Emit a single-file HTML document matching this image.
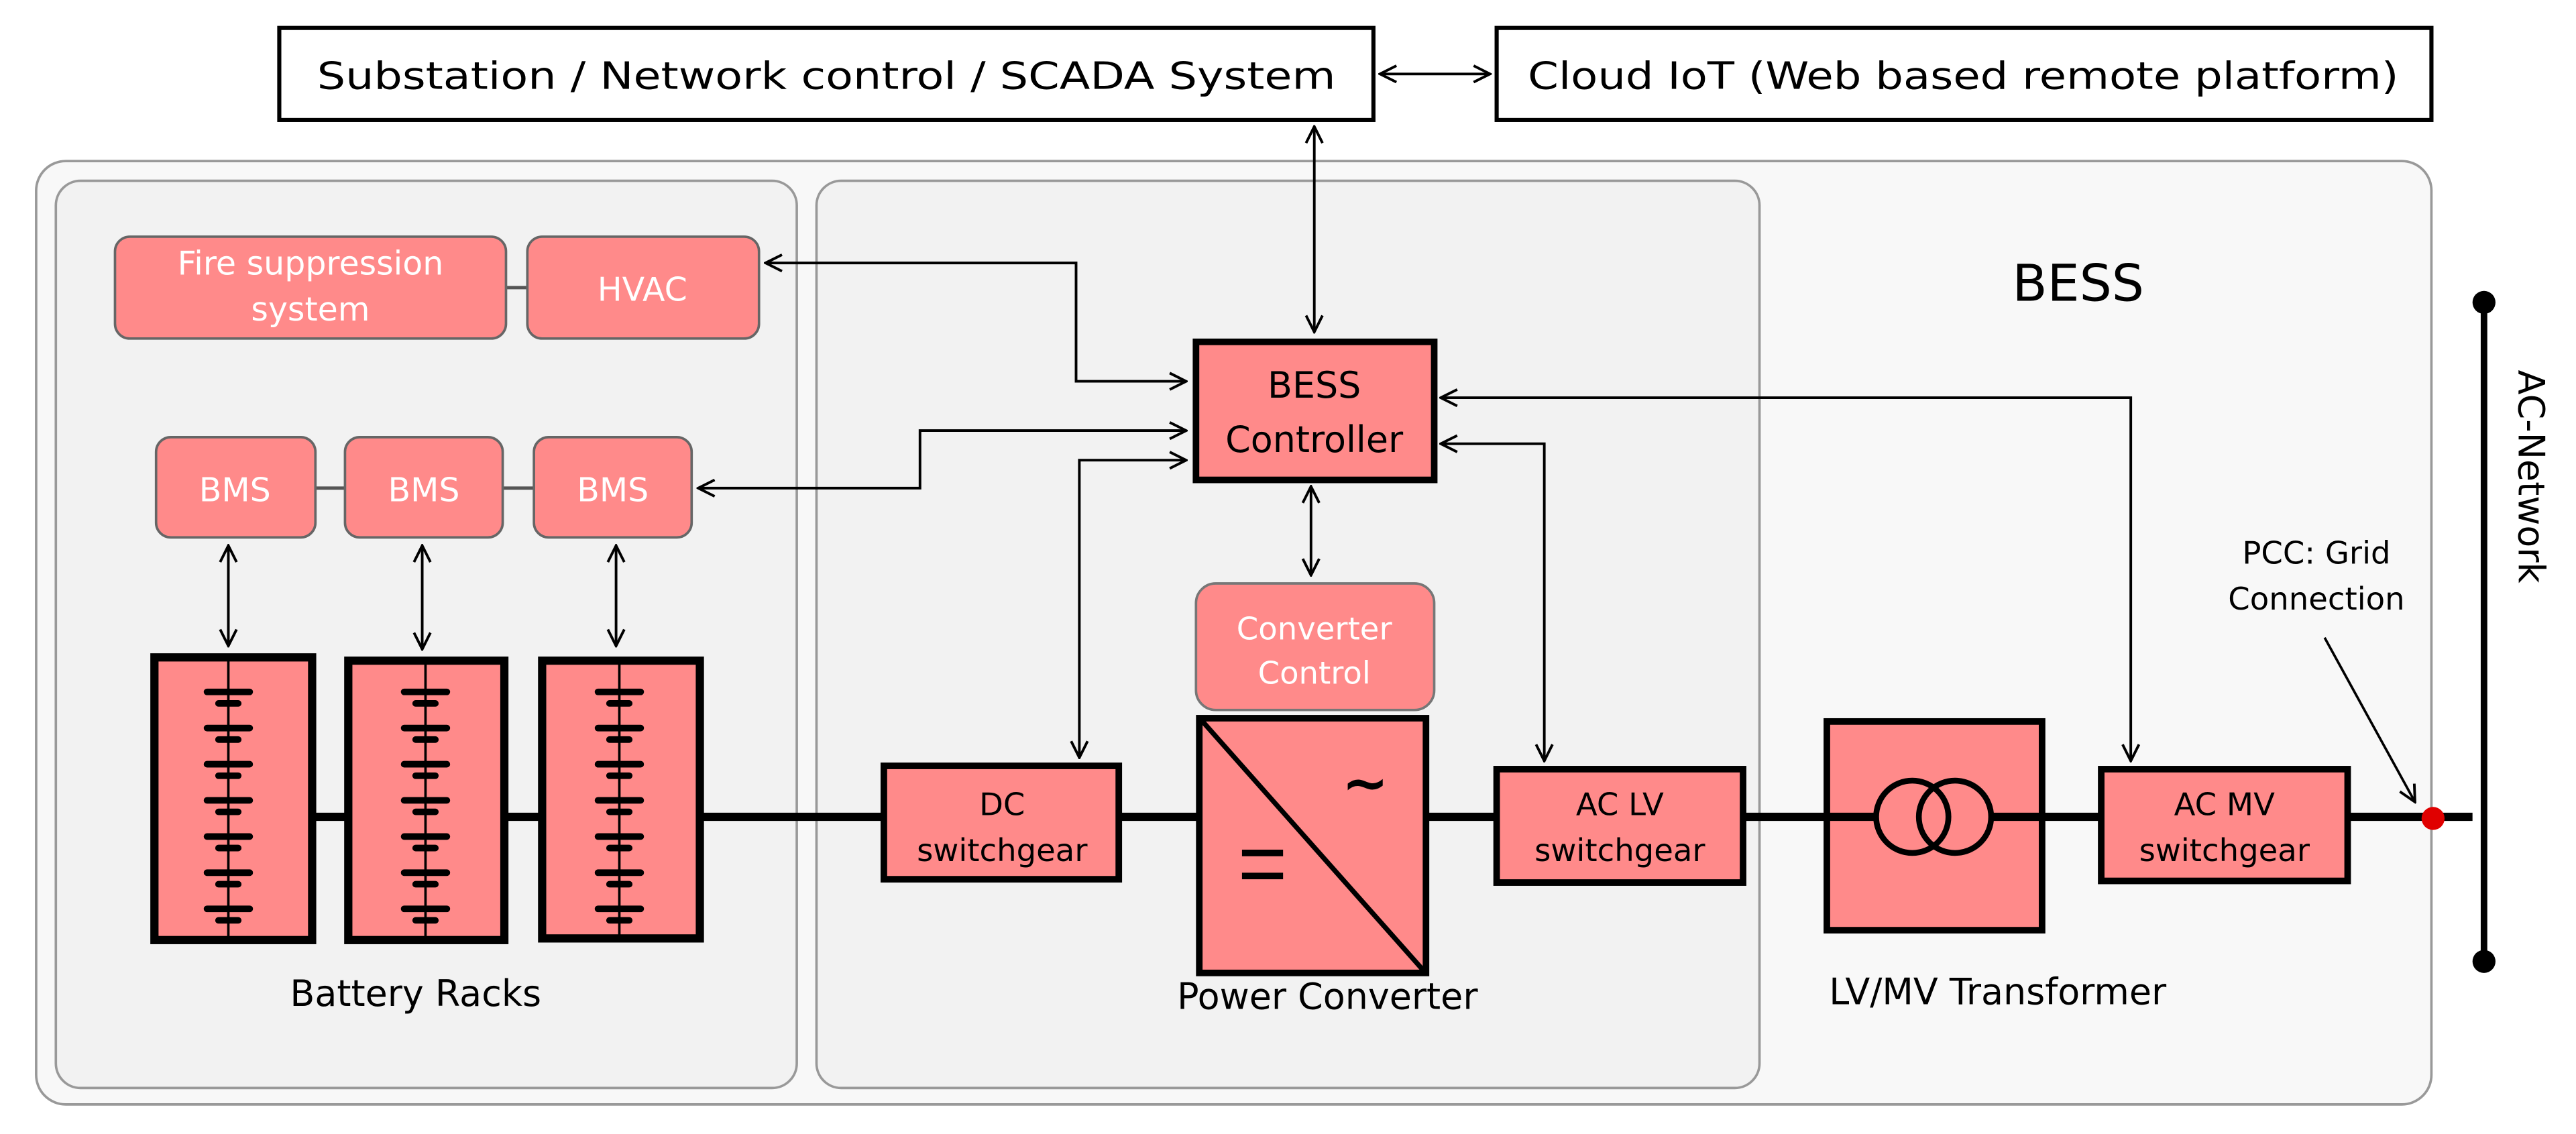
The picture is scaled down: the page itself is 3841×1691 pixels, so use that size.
<!DOCTYPE html>
<html><head><meta charset="utf-8"><style>
html,body{margin:0;padding:0;background:#fff}
svg{display:block}
text{font-family:"DejaVu Sans","Liberation Sans",sans-serif}
</style></head><body>
<svg width="3841" height="1691" viewBox="0 0 1568 690" preserveAspectRatio="none" xmlns="http://www.w3.org/2000/svg">
<defs>
<marker id="a" viewBox="0 0 12 12" refX="11" refY="6" markerWidth="12" markerHeight="12" markerUnits="userSpaceOnUse" orient="auto-start-reverse">
<path d="M1,1 L11,6 L1,11" fill="none" stroke="#000" stroke-width="1.6"/>
</marker>
<g id="cells" stroke="#000" stroke-linecap="round">
<g stroke-width="4">
<path d="M-13,421h26M-6,428h12M-13,443h26M-6,450h12M-13,465h26M-6,472h12M-13,487h26M-6,494h12M-13,509h26M-6,516h12M-13,531h26M-6,538h12M-13,553h26M-6,560h12"/>
</g></g>
</defs>
<rect width="1568" height="690" fill="#fff"/>
<rect x="170" y="17" width="666" height="56" fill="#fff" stroke="#000" stroke-width="2.5"/>
<text x="503" y="54" font-size="23" text-anchor="middle" textLength="620" lengthAdjust="spacingAndGlyphs">Substation / Network control / SCADA System</text>
<rect x="911" y="17" width="569" height="56" fill="#fff" stroke="#000" stroke-width="2.5"/>
<text x="1195" y="54" font-size="23" text-anchor="middle" textLength="530" lengthAdjust="spacingAndGlyphs">Cloud IoT (Web based remote platform)</text>
<line x1="840" y1="45" x2="907" y2="45" stroke="#000" stroke-width="1.6" marker-start="url(#a)" marker-end="url(#a)"/>
<rect x="22" y="98" width="1458" height="574" rx="18" fill="#f8f8f8" stroke="#999" stroke-width="1.5"/>
<rect x="34" y="110" width="451" height="552" rx="15" fill="#f2f2f2" stroke="#999" stroke-width="1.5"/>
<rect x="497" y="110" width="574" height="552" rx="15" fill="#f2f2f2" stroke="#999" stroke-width="1.5"/>
<text x="1265" y="183" font-size="31" text-anchor="middle">BESS</text>
<line x1="300" y1="175" x2="330" y2="175" stroke="#555" stroke-width="2"/>
<rect x="70" y="144" width="238" height="62" rx="9" fill="#ff8a8a" stroke="#666" stroke-width="1.5"/>
<text x="189" y="167" font-size="20" fill="#fff" text-anchor="middle">Fire suppression</text>
<text x="189" y="195" font-size="20" fill="#fff" text-anchor="middle">system</text>
<rect x="321" y="144" width="141" height="62" rx="9" fill="#ff8a8a" stroke="#666" stroke-width="1.5"/>
<text x="391" y="183" font-size="20" fill="#fff" text-anchor="middle">HVAC</text>
<line x1="190" y1="297" x2="330" y2="297" stroke="#555" stroke-width="2"/>
<rect x="95" y="266" width="97" height="61" rx="9" fill="#ff8a8a" stroke="#666" stroke-width="1.5"/>
<rect x="210" y="266" width="96" height="61" rx="9" fill="#ff8a8a" stroke="#666" stroke-width="1.5"/>
<rect x="325" y="266" width="96" height="61" rx="9" fill="#ff8a8a" stroke="#666" stroke-width="1.5"/>
<text x="143" y="305" font-size="20" fill="#fff" text-anchor="middle">BMS</text>
<text x="258" y="305" font-size="20" fill="#fff" text-anchor="middle">BMS</text>
<text x="373" y="305" font-size="20" fill="#fff" text-anchor="middle">BMS</text>
<g stroke="#000" stroke-width="1.6" marker-start="url(#a)" marker-end="url(#a)">
<line x1="139" y1="332" x2="139" y2="393"/>
<line x1="257" y1="332" x2="257" y2="395"/>
<line x1="375" y1="332" x2="375" y2="393"/>
</g>
<line x1="190" y1="497" x2="1505" y2="497" stroke="#000" stroke-width="5"/>
<g fill="#ff8a8a" stroke="#000" stroke-width="5">
<rect x="94" y="400" width="96" height="172"/>
<rect x="212" y="402" width="95" height="170"/>
<rect x="330" y="402" width="96" height="169"/>
</g>
<line x1="139" y1="402" x2="139" y2="570" stroke="#000" stroke-width="1.5"/>
<line x1="259" y1="404" x2="259" y2="570" stroke="#000" stroke-width="1.5"/>
<line x1="377" y1="404" x2="377" y2="569" stroke="#000" stroke-width="1.5"/>
<use href="#cells" transform="translate(139,0)"/>
<use href="#cells" transform="translate(259,0)"/>
<use href="#cells" transform="translate(377,0)"/>
<text x="253" y="612" font-size="22" text-anchor="middle">Battery Racks</text>
<text x="808" y="614" font-size="22" text-anchor="middle">Power Converter</text>
<text x="1216" y="611" font-size="22" text-anchor="middle">LV/MV Transformer</text>
<g fill="none" stroke="#000" stroke-width="1.6">
<polyline points="466,160 655,160 655,232 722,232" marker-start="url(#a)" marker-end="url(#a)"/>
<polyline points="425,297 560,297 560,262 722,262" marker-start="url(#a)" marker-end="url(#a)"/>
<polyline points="722,280 657,280 657,461" marker-start="url(#a)" marker-end="url(#a)"/>
<polyline points="877,242 1297,242 1297,463" marker-start="url(#a)" marker-end="url(#a)"/>
<polyline points="877,270 940,270 940,463" marker-start="url(#a)" marker-end="url(#a)"/>
<line x1="800" y1="77" x2="800" y2="202" marker-start="url(#a)" marker-end="url(#a)"/>
<line x1="798" y1="296" x2="798" y2="350" marker-start="url(#a)" marker-end="url(#a)"/>
</g>
<rect x="728" y="208" width="145" height="84" fill="#ff8a8a" stroke="#000" stroke-width="4"/>
<text x="800" y="242" font-size="22" text-anchor="middle">BESS</text>
<text x="800" y="275" font-size="22" text-anchor="middle">Controller</text>
<rect x="728" y="355" width="145" height="77" rx="12" fill="#ff8a8a" stroke="#777" stroke-width="1.5"/>
<text x="800" y="389" font-size="19" fill="#fff" text-anchor="middle">Converter</text>
<text x="800" y="416" font-size="19" fill="#fff" text-anchor="middle">Control</text>
<rect x="730" y="437" width="138" height="155" fill="#ff8a8a" stroke="#000" stroke-width="4"/>
<line x1="732" y1="439" x2="866" y2="590" stroke="#000" stroke-width="3"/>
<text x="831" y="488" font-size="34" font-weight="bold" text-anchor="middle">~</text>
<path d="M756,519h25M756,533h25" stroke="#000" stroke-width="4"/>
<rect x="538" y="466" width="143" height="69" fill="#ff8a8a" stroke="#000" stroke-width="4"/>
<text x="610" y="496" font-size="19" text-anchor="middle">DC</text>
<text x="610" y="524" font-size="19" text-anchor="middle">switchgear</text>
<rect x="911" y="468" width="150" height="69" fill="#ff8a8a" stroke="#000" stroke-width="4"/>
<text x="986" y="496" font-size="19" text-anchor="middle">AC LV</text>
<text x="986" y="524" font-size="19" text-anchor="middle">switchgear</text>
<rect x="1112" y="439" width="131" height="127" fill="#ff8a8a" stroke="#000" stroke-width="4"/>
<circle cx="1164" cy="497" r="22" fill="none" stroke="#000" stroke-width="3.5"/>
<circle cx="1190" cy="497" r="22" fill="none" stroke="#000" stroke-width="3.5"/>
<line x1="1112" y1="497" x2="1142" y2="497" stroke="#000" stroke-width="5"/>
<line x1="1212" y1="497" x2="1243" y2="497" stroke="#000" stroke-width="5"/>
<rect x="1279" y="468" width="150" height="68" fill="#ff8a8a" stroke="#000" stroke-width="4"/>
<text x="1354" y="496" font-size="19" text-anchor="middle">AC MV</text>
<text x="1354" y="524" font-size="19" text-anchor="middle">switchgear</text>
<line x1="1512" y1="183" x2="1512" y2="585" stroke="#000" stroke-width="4"/>
<circle cx="1512" cy="184" r="7" fill="#000"/>
<circle cx="1512" cy="585" r="7" fill="#000"/>
<circle cx="1481" cy="498" r="7" fill="#e00000"/>
<text transform="translate(1533,290) rotate(90)" font-size="22" text-anchor="middle">AC-Network</text>
<text x="1410" y="343" font-size="19" text-anchor="middle">PCC: Grid</text>
<text x="1410" y="371" font-size="19" text-anchor="middle">Connection</text>
<line x1="1415" y1="388" x2="1470" y2="488" stroke="#000" stroke-width="1.5" marker-end="url(#a)"/>
</svg>
</body></html>
